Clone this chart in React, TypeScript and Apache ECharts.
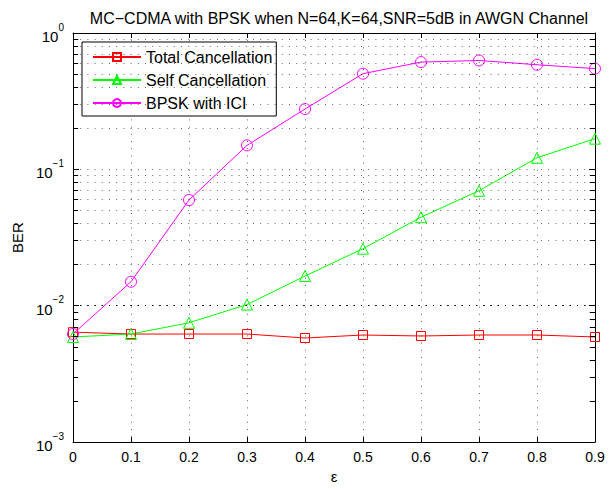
import React, { useEffect, useRef } from "react";
import * as echarts from "echarts";

const epsilon = [0, 0.1, 0.2, 0.3, 0.4, 0.5, 0.6, 0.7, 0.8, 0.9];
const totalCancellation = [0.0064, 0.0062, 0.0062, 0.0062, 0.0058, 0.0061, 0.006, 0.0061, 0.0061, 0.0059];
const selfCancellation = [0.0059, 0.0062, 0.0075, 0.0102, 0.0165, 0.0262, 0.0446, 0.0697, 0.1216, 0.168];
const bpskWithICI = [0.0062, 0.015, 0.0596, 0.15, 0.277, 0.503, 0.612, 0.629, 0.585, 0.548];
const seriesNames = ["Total Cancellation", "Self Cancellation", "BPSK with ICI"];
const decades = [0.001, 0.01, 0.1];
const minorMultipliers = [2, 3, 4, 5, 6, 7, 8, 9];
const xMin = 0;
const xMax = 0.9;
const xStep = 0.1;
const yMin = 0.001;
const yMax = 1;

const FONT = "'Liberation Sans', Arial, Helvetica, sans-serif";

export default function App() {
  const ref = useRef<HTMLDivElement>(null);
  useEffect(() => {
    if (!ref.current) return;
    const chart = echarts.init(ref.current, undefined, { renderer: "svg" });
    const minorValues: number[] = [];
    decades.forEach((d) => minorMultipliers.forEach((m) => minorValues.push(+(d * m).toPrecision(3))));
    const tickLen = 0.009;
    const dotted = { type: [1, 6.2] as any, color: "#000", width: 1, opacity: 0.6 };
    const gridLines: any[] = minorValues.map((v) => ({ yAxis: v, lineStyle: dotted }));
    const minorTicks: any[] = [];
    minorValues.forEach((v) => {
      minorTicks.push([{ coord: [xMin, v] }, { coord: [xMin + tickLen, v] }]);
      minorTicks.push([{ coord: [xMax, v] }, { coord: [xMax - tickLen, v] }]);
    });
    const mk = (name: string, data: number[], color: string, symbol: string, size: number) => ({
      name,
      type: "line",
      data: epsilon.map((x, i) => [x, data[i]]),
      symbol,
      symbolSize: size,
      showAllSymbol: true,
      lineStyle: { color, width: 1 },
      itemStyle: { color: "rgba(0,0,0,0)", borderColor: color, borderWidth: 1 },
      emphasis: { disabled: true },
      z: 3,
    });
    const labelFmt = (v: number) => {
      const e = Math.round(Math.log10(v));
      return `{b|10}{s|${e < 0 ? "\u2212" : ""}${Math.abs(e)}}`;
    };
    const rich = {
      b: { fontSize: 15, fontFamily: FONT, color: "#000", lineHeight: 22, verticalAlign: "bottom" },
      s: { fontSize: 10, fontFamily: FONT, color: "#000", lineHeight: 10, verticalAlign: "top" },
    };
    const option: any = {
      animation: false,
      backgroundColor: "#fff",
      title: {
        text: "MC\u2212CDMA with BPSK when N=64,K=64,SNR=5dB in AWGN Channel",
        left: 334,
        textAlign: "center",
        top: 5,
        textStyle: { fontSize: 16, fontWeight: "normal", color: "#000", fontFamily: FONT },
      },
      legend: {
        data: seriesNames,
        orient: "vertical",
        left: 82,
        top: 42,
        padding: [7, 4, 5, 10],
        itemWidth: 48,
        itemHeight: 10,
        itemGap: 7,
        backgroundColor: "#fff",
        borderColor: "#000",
        borderWidth: 1,
        borderRadius: 0,
        textStyle: { fontSize: 16, lineHeight: 16, color: "#000", fontFamily: FONT },
      },
      grid: { left: 73, top: 33, width: 522, height: 412, show: false },
      xAxis: [
        {
          type: "value",
          min: xMin,
          max: xMax,
          interval: xStep,
          name: "\u03b5",
          nameLocation: "middle",
          nameGap: 26,
          nameTextStyle: { fontSize: 15, color: "#000", fontFamily: FONT },
          axisLine: { show: true, lineStyle: { color: "#000", width: 1 } },
          axisTick: { show: true, inside: true, length: 5, lineStyle: { color: "#000" } },
          axisLabel: { fontSize: 14, color: "#000", fontFamily: FONT, margin: 8, formatter: (v: number) => String(+v.toFixed(1)) },
          splitLine: { show: true, lineStyle: dotted },
        },
        {
          type: "value",
          position: "top",
          min: xMin,
          max: xMax,
          interval: xStep,
          axisLine: { show: true, onZero: false, lineStyle: { color: "#000", width: 1 } },
          axisTick: { show: true, inside: true, length: 5, lineStyle: { color: "#000" } },
          axisLabel: { show: false },
          splitLine: { show: false },
        },
      ],
      yAxis: [
        {
          type: "log",
          logBase: 10,
          min: yMin,
          max: yMax,
          name: "BER",
          nameLocation: "middle",
          nameGap: 43,
          nameTextStyle: { fontSize: 15, color: "#000", fontFamily: FONT },
          axisLine: { show: true, onZero: false, lineStyle: { color: "#000", width: 1 } },
          axisTick: { show: true, inside: true, length: 6, lineStyle: { color: "#000" } },
          axisLabel: { margin: 9, formatter: labelFmt, rich },
          splitLine: { show: true, lineStyle: dotted },
        },
        {
          type: "log",
          logBase: 10,
          min: yMin,
          max: yMax,
          position: "right",
          axisLine: { show: true, onZero: false, lineStyle: { color: "#000", width: 1 } },
          axisTick: { show: true, inside: true, length: 6, lineStyle: { color: "#000" } },
          axisLabel: { show: false },
          splitLine: { show: false },
        },
      ],
      series: [
        {
          name: "gridlines",
          type: "line",
          data: [],
          silent: true,
          z: 1,
          markLine: {
            silent: true,
            symbol: ["none", "none"],
            label: { show: false },
            emphasis: { disabled: true },
            lineStyle: dotted,
            data: gridLines,
          },
        },
        {
          name: "minorticks",
          type: "line",
          data: [],
          silent: true,
          z: 2,
          markLine: {
            silent: true,
            symbol: ["none", "none"],
            label: { show: false },
            emphasis: { disabled: true },
            lineStyle: { type: "solid", color: "#000", width: 1 },
            data: minorTicks,
          },
        },
        mk(seriesNames[0], totalCancellation, "#ff0000", "rect", 9),
        mk(seriesNames[1], selfCancellation, "#00ff00", "triangle", 11),
        mk(seriesNames[2], bpskWithICI, "#ff00ff", "circle", 11),
      ],
    };
    chart.setOption(option);
    return () => chart.dispose();
  }, []);
  return (
    <div
      ref={ref}
      style={{ position: "fixed", left: 0, top: 0, width: 615, height: 489, background: "#fff" }}
    />
  );
}
